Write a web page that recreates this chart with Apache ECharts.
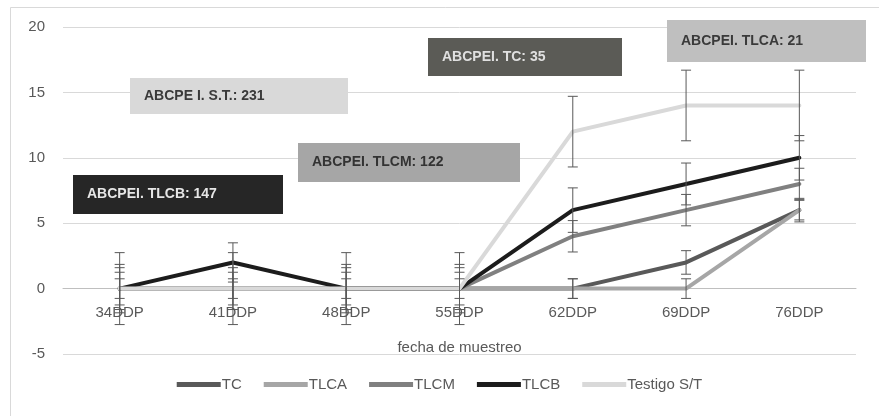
<!DOCTYPE html>
<html>
<head>
<meta charset="utf-8">
<script src="https://cdn.jsdelivr.net/npm/echarts@6/dist/echarts.min.js"></script>
<style>
  html, body { margin: 0; padding: 0; background: #ffffff; }
  #chart { width: 879px; height: 416px; }
</style>
</head>
<body>
<div id="chart"></div>
<script>
// Sampling dates (days after planting)
const categories = ['34DDP', '41DDP', '48DDP', '55DDP', '62DDP', '69DDP', '76DDP'];
const yTicks = [-5, 0, 5, 10, 15, 20];

// Mean values per treatment
const seriesNames = ['TC', 'TLCA', 'TLCM', 'TLCB', 'Testigo S/T'];
const valuesTC      = [0, 0, 0, 0, 0, 2, 6];
const valuesTLCA    = [0, 0, 0, 0, 0, 0, 6];
const valuesTLCM    = [0, 0, 0, 0, 4, 6, 8];
const valuesTLCB    = [0, 2, 0, 0, 6, 8, 10];
const valuesTestigo = [0, 0, 0, 0, 12, 14, 14];

// Error (± half-width) per treatment
const errTC      = [0.75, 0.75, 0.75, 0.75, 0.75, 0.9, 0.9];
const errTLCA    = [1.25, 1.25, 1.25, 1.25, 0.75, 0.75, 0.75];
const errTLCM    = [1.6, 1.6, 1.6, 1.6, 1.2, 1.2, 1.2];
const errTLCB    = [1.85, 1.5, 1.85, 1.85, 1.7, 1.6, 1.7];
const errTestigo = [2.75, 2.75, 2.75, 2.75, 2.7, 2.7, 2.7];

// Area under the disease progress curve, one note per treatment
const noteTexts = [
  'ABCPE I. S.T.: 231',
  'ABCPEI. TLCB: 147',
  'ABCPEI. TLCM: 122',
  'ABCPEI. TC: 35',
  'ABCPEI. TLCA: 21'
];

const allValues = [valuesTC, valuesTLCA, valuesTLCM, valuesTLCB, valuesTestigo];
const allErrors = [errTC, errTLCA, errTLCM, errTLCB, errTestigo];
const lineColors = ['#595959', '#a6a6a6', '#808080', '#1c1c1c', '#d9d9d9'];

const FONT = 'Liberation Sans';

const chart = echarts.init(document.getElementById('chart'), null, { renderer: 'canvas' });

const lineSeries = seriesNames.map((name, i) => ({
  name: name,
  type: 'line',
  data: allValues[i],
  symbol: 'none',
  lineStyle: { width: 4, color: lineColors[i], cap: 'round', join: 'round' },
  itemStyle: { color: lineColors[i] },
  z: 2 + i
}));

const errorSeries = seriesNames.map((name, i) => ({
  name: name + ' error',
  type: 'custom',
  z: 10,
  silent: true,
  data: allValues[i].map((v, k) => [k, v - allErrors[i][k], v + allErrors[i][k]]),
  renderItem: function (params, api) {
    const x = api.value(0);
    const lo = api.coord([x, api.value(1)]);
    const hi = api.coord([x, api.value(2)]);
    const cap = 5;
    const style = { stroke: '#595959', lineWidth: 1, fill: null };
    return {
      type: 'group',
      children: [
        { type: 'line', shape: { x1: hi[0], y1: hi[1], x2: lo[0], y2: lo[1] }, style: style },
        { type: 'line', shape: { x1: hi[0] - cap, y1: hi[1], x2: hi[0] + cap, y2: hi[1] }, style: style },
        { type: 'line', shape: { x1: lo[0] - cap, y1: lo[1], x2: lo[0] + cap, y2: lo[1] }, style: style }
      ]
    };
  }
}));

// Note boxes: [left, top, width, height, background, text colour]
const noteBoxes = [
  [130, 78, 218, 36, '#d9d9d9', '#3a3a3a'],
  [73, 175, 210, 39, '#262626', '#e6e6e6'],
  [298, 143, 222, 39, '#a6a6a6', '#333333'],
  [428, 38, 194, 38, '#5b5b56', '#e0e0e0'],
  [667, 20, 199, 42, '#bfbfbf', '#3a3a3a']
];

const graphics = [
  {
    type: 'rect',
    shape: { x: 10.5, y: 7.5, width: 880, height: 420 },
    style: { fill: null, stroke: '#d9d9d9', lineWidth: 1 },
    z: 0
  }
];
noteBoxes.forEach((b, i) => {
  graphics.push({
    type: 'rect',
    shape: { x: b[0], y: b[1], width: b[2], height: b[3] },
    style: { fill: b[4] },
    z: 100,
    zlevel: 1
  });
  graphics.push({
    type: 'text',
    x: b[0] + 14,
    y: b[1] + b[3] / 2,
    z: 101,
    zlevel: 1,
    style: {
      text: noteTexts[i],
      fill: b[5],
      font: 'bold 14px "' + FONT + '"',
      textVerticalAlign: 'middle',
      verticalAlign: 'middle'
    }
  });
});

// The category axis sits on the zero line: 5 units (one interval) above the grid bottom
const gridTop = 27, gridBottom = 62;
const plotHeight = 416 - gridTop - gridBottom;
const zeroOffset = plotHeight * (0 - yTicks[0]) / (yTicks[yTicks.length - 1] - yTicks[0]);

chart.setOption({
  animation: false,
  backgroundColor: '#ffffff',
  textStyle: { fontFamily: FONT },
  grid: { left: 63, right: 23, top: gridTop, bottom: gridBottom, containLabel: false },
  legend: {
    data: seriesNames,
    bottom: 19,
    left: 'center',
    icon: 'rect',
    itemWidth: 44,
    itemHeight: 5,
    itemGap: 22,
    textStyle: { color: '#595959', fontSize: 15, fontFamily: FONT, padding: [0, 0, 0, -4] }
  },
  xAxis: {
    type: 'category',
    data: categories,
    boundaryGap: true,
    position: 'bottom',
    offset: -zeroOffset,
    name: 'fecha de muestreo',
    nameLocation: 'middle',
    nameGap: 52,
    nameTextStyle: { color: '#595959', fontSize: 15, fontFamily: FONT },
    axisLine: { onZero: false, lineStyle: { color: '#bfbfbf', width: 1 } },
    axisTick: { show: false },
    axisLabel: { color: '#595959', fontSize: 15, margin: 17, fontFamily: FONT },
    splitLine: { show: false }
  },
  yAxis: {
    type: 'value',
    min: yTicks[0],
    max: yTicks[yTicks.length - 1],
    interval: 5,
    axisLine: { show: false },
    axisTick: { show: false },
    axisLabel: { color: '#595959', fontSize: 15, margin: 18, fontFamily: FONT },
    splitLine: { lineStyle: { color: '#d9d9d9', width: 1 } }
  },
  series: lineSeries.concat(errorSeries),
  graphic: graphics
});
</script>
</body>
</html>
